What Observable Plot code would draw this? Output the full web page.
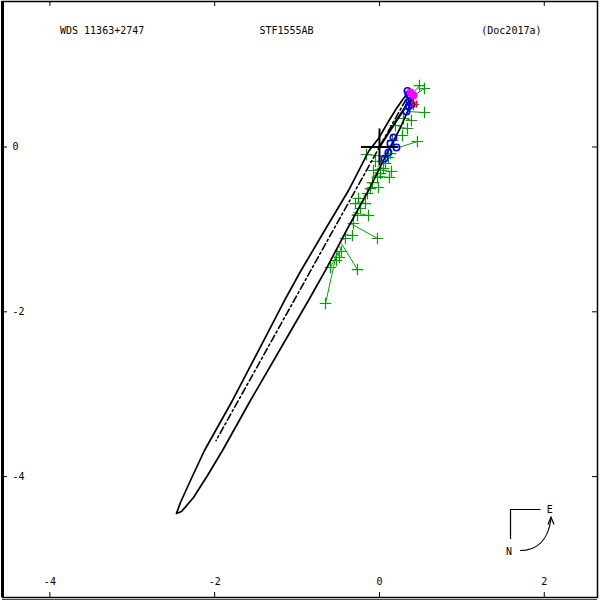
<!DOCTYPE html>
<html><head><meta charset="utf-8">
<script src="https://cdn.jsdelivr.net/npm/d3@7"></script>
<script src="https://cdn.jsdelivr.net/npm/@observablehq/plot@0.6"></script>
<style>body{margin:0;background:#fff} svg{display:block}</style>
</head><body><div id="chart"></div>
<script>
// ---- data (arcsec) ----
const titleLeft = "WDS 11363+2747";
const titleMid = "STF1555AB";
const titleRight = "(Doc2017a)";
const xTicks = [-4, -2, 0, 2];
const yTicks = [0, -2, -4];

// apparent orbit (closed curve)
const orbitX = [0.376, 0.291, 0.206, 0.109, -0.012, -0.133, -0.376, -0.680, -0.959, -1.153, -1.468, -1.784, -2.124, -2.294, -2.415, -2.464,
                -2.403, -2.257, -2.087, -1.905, -1.566, -1.214, -0.862, -0.644, -0.388, -0.133, 0.109, 0.255, 0.352, 0.388];
const orbitY = [0.686, 0.589, 0.467, 0.309, 0.103, -0.055, -0.528, -1.038, -1.511, -1.863, -2.470, -3.076, -3.683, -4.047, -4.314, -4.448,
                -4.424, -4.254, -3.987, -3.683, -3.076, -2.470, -1.863, -1.475, -0.989, -0.528, -0.042, 0.237, 0.455, 0.589];
// line of nodes
const nodesX = [0.321, -1.983];
const nodesY = [0.576, -3.562];
// primary to periastron
const periX = [0, 0.364];
const periY = [0, 0.564];
// primary
const primaryX = [0];
const primaryY = [0];

// micrometric measures (observed) and orbit positions
const microObsX = [-0.655, -0.267, -0.024, -0.595, -0.485, -0.461, -0.522, -0.328, -0.413, -0.316, -0.267, -0.231, -0.133, -0.291, -0.170, -0.255,
  -0.146, -0.109, -0.085, -0.012, -0.024, 0.012, 0.121, 0.146, 0.049, 0.073, 0.109, 0.133, 0.461, 0.546, 0.485, 0.546, 0.388, 0.340, 0.279,
  -0.158, -0.049, -0.073, 0.194, 0.158, 0.413, 0.291];
const microObsY = [-1.899, -1.487, -1.110, -1.462, -1.341, -1.268, -1.377, -1.074, -1.110, -0.928, -0.831, -0.746, -0.831, -0.686, -0.686, -0.625,
  -0.564, -0.504, -0.431, -0.491, -0.370, -0.322, -0.370, -0.297, -0.261, -0.200, -0.127, -0.079, 0.067, 0.419, 0.746, 0.710, 0.322, 0.225, 0.140,
  -0.091, -0.176, -0.285, 0.261, 0.079, 0.516, 0.346];
const microFitX = [-0.510, -0.461, -0.328, -0.498, -0.510, -0.485, -0.546, -0.425, -0.449, -0.364, -0.328, -0.291, -0.316, -0.255, -0.255, -0.231,
  -0.194, -0.158, -0.121, -0.146, -0.085, -0.061, -0.073, -0.036, -0.024, 0.012, 0.049, 0.073, 0.231, 0.340, 0.388, 0.400, 0.316, 0.267, 0.218,
  0.061, 0.036, -0.012, 0.267, 0.182, 0.364, 0.316];
const microFitY = [-1.244, -1.171, -0.941, -1.280, -1.280, -1.208, -1.329, -1.062, -1.123, -0.941, -0.819, -0.746, -0.795, -0.674, -0.661, -0.613,
  -0.589, -0.516, -0.443, -0.491, -0.358, -0.310, -0.346, -0.273, -0.237, -0.188, -0.115, -0.079, -0.006, 0.431, 0.625, 0.613, 0.346, 0.237, 0.140,
  -0.115, -0.164, -0.261, 0.249, 0.067, 0.492, 0.358];

// interferometric measures
const speckleX = [0.206, 0.133, 0.170, 0.061, 0.109, 0.328, 0.352, 0.364, 0.376, 0.352, 0.388, 0.340];
const speckleY = [-0.006, 0.042, 0.115, -0.140, -0.067, 0.431, 0.492, 0.552, 0.601, 0.637, 0.516, 0.680];

// other measures
const otherX = [0.376, 0.413];
const otherY = [0.661, 0.625];
const redObsX = [0.400, 0.449];
const redObsY = [0.479, 0.479];
const redFitX = [0.400, 0.449];
const redFitY = [0.576, 0.564];

// ---- tables ----
const zip = (xs, ys) => xs.map((x, i) => ({x, y: ys[i]}));
const orbit = zip(orbitX, orbitY);
const nodes = zip(nodesX, nodesY);
const peri = zip(periX, periY);
const primary = zip(primaryX, primaryY);
const micro = microObsX.map((x, i) => ({ox: x, oy: microObsY[i], fx: microFitX[i], fy: microFitY[i]}));
const speckle = zip(speckleX, speckleY);
const other = zip(otherX, otherY);
const red = redObsX.map((x, i) => ({ox: x, oy: redObsY[i], fx: redFitX[i], fy: redFitY[i]}));

const green = "#00a000";

function compass() {
  const g = d3.create("svg:g");
  const p = g.append("g").attr("fill", "none").attr("stroke", "black").attr("stroke-width", 1.2);
  p.append("path").attr("d", "M540.5,509.5H510.5V539");
  p.append("path").attr("d", "M520,550.5C536,550.5 548,541 551,519");
  p.append("path").attr("d", "M548,524.5L551,517L554,524.5");
  g.append("text").attr("x", 549.7).attr("y", 512.5).attr("text-anchor", "middle").attr("fill", "black").text("E");
  g.append("text").attr("x", 509).attr("y", 555).attr("text-anchor", "middle").attr("fill", "black").text("N");
  return g.node();
}

const chart = Plot.plot({
  width: 600,
  height: 600,
  marginLeft: 2,
  marginRight: 3,
  marginTop: 1,
  marginBottom: 3,
  style: {fontFamily: "DejaVu Sans Mono", fontSize: "10px", background: "white", color: "black"},
  x: {domain: [-4.575, 2.646], axis: null},
  y: {domain: [-5.467, 1.766], axis: null},
  marks: [
    Plot.link(micro, {x1: "ox", y1: "oy", x2: "fx", y2: "fy", stroke: green, strokeWidth: 1}),
    Plot.dot(micro, {x: "ox", y: "oy", symbol: "plus", r: 3.8, stroke: green, strokeWidth: 1.2}),
    Plot.line(orbit, {x: "x", y: "y", curve: "linear-closed", stroke: "black", strokeWidth: 1.7}),
    Plot.line(nodes, {x: "x", y: "y", stroke: "black", strokeWidth: 1.6, strokeDasharray: "7,3,2,3"}),
    Plot.line(peri, {x: "x", y: "y", stroke: "black", strokeWidth: 2.2}),
    Plot.dot(speckle, {x: "x", y: "y", r: 3.2, stroke: "blue", strokeWidth: 1.6, fill: "none"}),
    Plot.link(red, {x1: "ox", y1: "oy", x2: "fx", y2: "fy", stroke: "red", strokeWidth: 2}),
    Plot.dot(other, {x: "x", y: "y", r: 3.3, fill: "magenta", stroke: "magenta"}),
    Plot.dot(primary, {x: "x", y: "y", symbol: "plus", r: 12, stroke: "black", strokeWidth: 2}),
    // frame & ticks
    Plot.frame({stroke: "black", strokeWidth: 1.5}),
    Plot.ruleX([-4.575], {stroke: "black", strokeWidth: 3}),
    Plot.ruleY([-5.467], {stroke: "black", strokeWidth: 1, dy: 2.3}),
    Plot.tickX(xTicks, {x: d => d, insetTop: 591, stroke: "black"}),
    Plot.tickX(xTicks, {x: d => d, insetBottom: 591, stroke: "black"}),
    Plot.tickY(yTicks, {y: d => d, insetRight: 590, stroke: "black"}),
    Plot.tickY(yTicks, {y: d => d, insetLeft: 590, stroke: "black"}),
    Plot.text(xTicks, {x: d => d, text: d => String(d), frameAnchor: "bottom", dy: -13, fill: "black"}),
    Plot.text(yTicks, {y: d => d, text: d => String(d), frameAnchor: "left", dx: 10, fill: "black"}),
    Plot.text([titleLeft], {text: d => d, frameAnchor: "top-left", dx: 57.5, dy: 25, textAnchor: "start", fill: "black"}),
    Plot.text([titleMid], {text: d => d, frameAnchor: "top-left", dx: 284, dy: 25, textAnchor: "middle", fill: "black"}),
    Plot.text([titleRight], {text: d => d, frameAnchor: "top-left", dx: 539, dy: 25, textAnchor: "end", fill: "black"}),
    compass
  ]
});
document.getElementById("chart").append(chart);
</script>
</body></html>
